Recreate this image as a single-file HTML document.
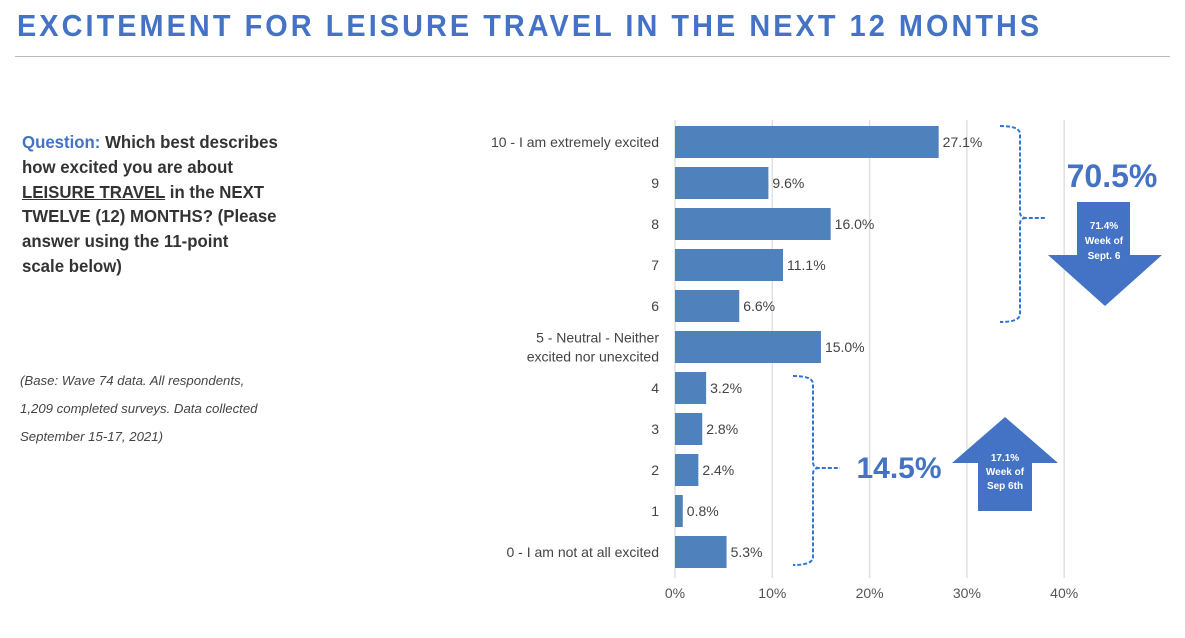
<!DOCTYPE html>
<html><head><meta charset="utf-8"><style>
body{margin:0;width:1185px;height:638px;background:#fff;font-family:"Liberation Sans",sans-serif;overflow:hidden;position:relative}
.abs{position:absolute}
</style></head><body>
<div class="abs" style="left:17px;top:8px;font-size:31px;font-weight:bold;color:#4472C4;letter-spacing:3.3px;transform:scaleX(0.93);transform-origin:left;white-space:nowrap">EXCITEMENT FOR LEISURE TRAVEL IN THE NEXT 12 MONTHS</div>
<div class="abs" style="left:15px;top:56px;width:1155px;height:1px;background:#bbb"></div>
<div class="abs" style="left:22px;top:130px;width:300px;font-size:17.5px;font-weight:bold;line-height:24.8px;color:#333;white-space:nowrap;transform:scaleX(0.96);transform-origin:left"><span style="color:#4472C4">Question:</span> Which best describes<br>how excited you are about<br><u>LEISURE TRAVEL</u> in the NEXT<br>TWELVE (12) MONTHS? (Please<br>answer using the 11-point<br>scale below)</div>
<div class="abs" style="left:20px;top:367px;width:280px;font-size:13.2px;font-style:italic;line-height:28px;color:#444;white-space:nowrap">(Base: Wave 74 data. All respondents,<br>1,209 completed surveys. Data collected<br>September 15-17, 2021)</div>
<svg class="abs" style="left:0;top:0" width="1185" height="638" id="chart"></svg>
<script>
const categories=["10 - I am extremely excited","9","8","7","6","5 - Neutral - Neither|excited nor unexcited","4","3","2","1","0 - I am not at all excited"];
const values=[27.1,9.6,16.0,11.1,6.6,15.0,3.2,2.8,2.4,0.8,5.3];
const ticks=[0,10,20,30,40];
const svg=document.getElementById('chart');
const NS='http://www.w3.org/2000/svg';
const x=v=>675+v*9.73;
const y=i=>142+i*41;
function mk(t,a,txt){const e=document.createElementNS(NS,t);for(const k in a)e.setAttribute(k,a[k]);if(txt!=null)e.textContent=txt;svg.appendChild(e);return e;}
ticks.forEach(t=>{
 const g=mk('line',{x1:x(t),x2:x(t),y1:120,y2:578,stroke:'#e0e0e0','stroke-width':1.5});
 
 
 const l=mk('text',{x:x(t),y:598,'text-anchor':'middle','font-size':14,fill:'#555','font-family':'Liberation Sans'},t+'%');
 
 
});
values.forEach((v,i)=>{
 const b=mk('rect',{x:x(0),y:y(i)-16,width:x(v)-x(0),height:32,fill:'#4F81BD'});
 
 
 const vl=mk('text',{x:x(v)+4,y:y(i)+5,'font-size':14,fill:'#444','font-family':'Liberation Sans'},v.toFixed(1)+'%');
 
 
 const parts=categories[i].split('|');
 parts.forEach((p,j)=>{
  const c=mk('text',{x:659,y:y(i)+5+(j-(parts.length-1)/2)*19,'text-anchor':'end','font-size':14,fill:'#444','font-family':'Liberation Sans'},p);
  
  
 });
});
function bracket(xb,y1,y2,ym,xt,name){
 const p=mk('path',{d:`M${xb-20},${y1} Q${xb},${y1} ${xb},${y1+8} L${xb},${ym-6} Q${xb},${ym} ${xb+6},${ym} L${xt},${ym} M${xb+6},${ym} Q${xb},${ym} ${xb},${ym+6} L${xb},${y2-8} Q${xb},${y2} ${xb-20},${y2}`,fill:'none',stroke:'#2E75D6','stroke-width':2,'stroke-dasharray':'4,2'});
 
 
}
bracket(1020,126,322,218,1046,'top-bracket');
bracket(813,376,565,468,840,'bottom-bracket');
const t1=mk('text',{x:1112,y:187,'text-anchor':'middle','font-size':32,'font-weight':'bold',fill:'#4472C4','font-family':'Liberation Sans'},'70.5%');


const t2=mk('text',{x:899,y:478,'text-anchor':'middle','font-size':30,'font-weight':'bold',fill:'#4472C4','font-family':'Liberation Sans'},'14.5%');


const a1=mk('polygon',{points:'1077,202 1130,202 1130,255 1162,255 1105,306 1048,255 1077,255',fill:'#4472C4'});


const a2=mk('polygon',{points:'1005,417 1058,463 1032,463 1032,511 978,511 978,463 952,463',fill:'#4472C4'});


[['71.4%',229],['Week of',244],['Sept. 6',259]].forEach(([s,yy])=>{
 const e=mk('text',{x:1104,y:yy,'text-anchor':'middle','font-size':10,'font-weight':'bold',fill:'#fff','font-family':'Liberation Sans'},s);
 
 
});
[['17.1%',461],['Week of',475],['Sep 6th',489]].forEach(([s,yy])=>{
 const e=mk('text',{x:1005,y:yy,'text-anchor':'middle','font-size':10,'font-weight':'bold',fill:'#fff','font-family':'Liberation Sans'},s);
 
 
});
</script>
</body></html>
